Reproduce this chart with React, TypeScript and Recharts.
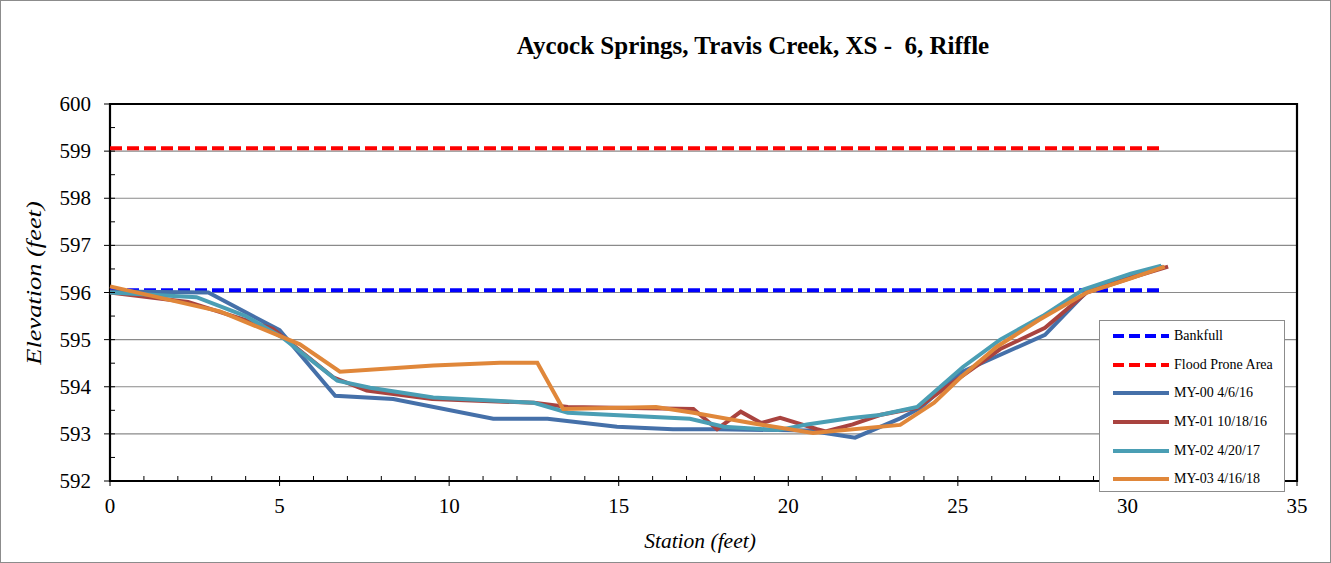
import { LineChart, Line, XAxis, YAxis, CartesianGrid, ReferenceArea } from "recharts";

const xTicks = Array.from({ length: 36 }, (_, i) => i);
const yTicks = [592, 592.5, 593, 593.5, 594, 594.5, 595, 595.5, 596, 596.5, 597, 597.5, 598, 598.5, 599, 599.5, 600];

const bankfullStation = [0, 31];
const bankfullElev = [596.05, 596.05];
const floodStation = [0, 31];
const floodElev = [599.06, 599.06];

const my00Station = [0, 2.9, 5.0, 6.64, 8.35, 11.3, 12.9, 14.95, 16.6, 17.9, 20.6, 21.97, 23.3, 23.9, 25.07, 27.57, 28.8, 30.17, 31.05];
const my00Elev = [596.02, 596.0, 595.2, 593.81, 593.74, 593.32, 593.32, 593.15, 593.1, 593.1, 593.07, 592.92, 593.33, 593.55, 594.3, 595.1, 596.02, 596.34, 596.55];

const my01Station = [0, 2.3, 4.8, 6.58, 7.57, 9.5, 12.5, 13.5, 17.2, 17.9, 18.6, 19.2, 19.76, 20.85, 21.1, 21.9, 22.7, 23.8, 25.07, 26.25, 27.57, 28.8, 30.2, 31.2];
const my01Elev = [596.0, 595.8, 595.23, 594.2, 593.92, 593.74, 593.66, 593.57, 593.53, 593.1, 593.47, 593.23, 593.34, 593.1, 593.05, 593.2, 593.4, 593.55, 594.2, 594.8, 595.25, 596.0, 596.33, 596.55];

const my02Station = [0, 2.55, 4.0, 5.07, 6.7, 7.67, 9.53, 12.5, 13.5, 17.1, 18.1, 19.7, 20.55, 21.8, 22.7, 23.8, 25.15, 26.25, 27.5, 28.7, 30.1, 31.0];
const my02Elev = [596.0, 595.9, 595.5, 595.05, 594.13, 593.98, 593.77, 593.66, 593.45, 593.32, 593.15, 593.08, 593.2, 593.33, 593.4, 593.57, 594.42, 595.0, 595.5, 596.06, 596.4, 596.57];

const my03Station = [0, 3.24, 5.6, 6.78, 9.53, 11.5, 12.6, 13.36, 16.1, 17.2, 18.9, 20.73, 23.3, 24.3, 25.07, 26.15, 27.4, 28.8, 30.1, 31.1];
const my03Elev = [596.13, 595.6, 594.9, 594.32, 594.45, 594.51, 594.51, 593.53, 593.57, 593.45, 593.23, 593.02, 593.19, 593.66, 594.19, 594.85, 595.42, 596.0, 596.3, 596.55];

const toPoints = (xs: number[], ys: number[]) => xs.map((x, i) => ({ x, y: ys[i] }));

const series = [
  { name: "Bankfull", color: "#0000ff", dash: "12 5", data: toPoints(bankfullStation, bankfullElev) },
  { name: "Flood Prone Area", color: "#ff0000", dash: "12 5", data: toPoints(floodStation, floodElev) },
  { name: "MY-00 4/6/16", color: "#4570a9", dash: undefined, data: toPoints(my00Station, my00Elev) },
  { name: "MY-01 10/18/16", color: "#a9433f", dash: undefined, data: toPoints(my01Station, my01Elev) },
  { name: "MY-02 4/20/17", color: "#4a9eb4", dash: undefined, data: toPoints(my02Station, my02Elev) },
  { name: "MY-03 4/16/18", color: "#e0873a", dash: undefined, data: toPoints(my03Station, my03Elev) },
];

const FONT = "'Liberation Serif', 'Times New Roman', serif";

const XTick = ({ x, y, payload }: any) => {
  const v = payload.value;
  const major = v % 5 === 0;
  return (
    <g>
      <line x1={x} x2={x} y1={major ? y + 5 : y} y2={y - 5} stroke="#000" strokeWidth={1} />
      {major && (
        <text x={x} y={y + 32} textAnchor="middle" style={{ fontFamily: FONT, fontSize: 21 }} fill="#000">
          {v}
        </text>
      )}
    </g>
  );
};

const YTick = ({ x, y, payload }: any) => {
  const v = payload.value;
  const major = Number.isInteger(v);
  return (
    <g>
      <line x1={major ? x - 6 : x} x2={x + 5} y1={y} y2={y} stroke="#000" strokeWidth={1} />
      {major && (
        <text x={x - 19} y={y + 7} textAnchor="end" style={{ fontFamily: FONT, fontSize: 21 }} fill="#000">
          {v}
        </text>
      )}
    </g>
  );
};

const LegendBox = () => (
  <div
    style={{
      position: "absolute",
      left: 1098,
      top: 319,
      width: 186,
      height: 172,
      border: "1px solid #8c8c8c",
      background: "#fff",
      boxSizing: "border-box",
      fontFamily: FONT,
      fontSize: 14,
      paddingTop: 1,
    }}
  >
    {series.map((s) => (
      <div key={s.name} style={{ height: 28.6, display: "flex", alignItems: "center" }}>
        <svg width={62} height={10} style={{ marginLeft: 11 }}>
          <line x1={2} x2={58} y1={5} y2={5} stroke={s.color} strokeWidth={4} strokeDasharray={s.dash ? "11 5" : undefined} />
        </svg>
        <span style={{ marginLeft: 1 }}>{s.name}</span>
      </div>
    ))}
  </div>
);

export default function App() {
  return (
    <div style={{ position: "relative", width: 1331, height: 563, boxSizing: "border-box", border: "1px solid #8c8c8c", background: "#fff" }}>
      <style>{"body{margin:0}"}</style>
      <div
        style={{
          position: "absolute",
          left: 0,
          width: 1504,
          top: 31,
          textAlign: "center",
          fontFamily: FONT,
          fontWeight: "bold",
          fontSize: 25,
          whiteSpace: "pre",
        }}
      >
        {"Aycock Springs, Travis Creek, XS -  6, Riffle"}
      </div>
      <div
        style={{
          position: "absolute",
          left: 33,
          top: 282,
          transform: "translate(-50%, -50%) rotate(-90deg) scaleX(1.2)",
          fontFamily: FONT,
          fontStyle: "italic",
          fontSize: 22,
          whiteSpace: "nowrap",
        }}
      >
        Elevation (feet)
      </div>
      <div
        style={{
          position: "absolute",
          left: 699,
          top: 540,
          transform: "translate(-50%, -50%)",
          fontFamily: FONT,
          fontStyle: "italic",
          fontSize: 21.5,
          whiteSpace: "nowrap",
        }}
      >
        Station (feet)
      </div>
      <div style={{ position: "absolute", left: -1, top: -1 }}>
        <LineChart width={1331} height={563} margin={{ top: 104, right: 34, bottom: 52, left: 50 }}>
          <CartesianGrid horizontal vertical={false} stroke="#8a8a8a" strokeWidth={1.2} horizontalValues={[593, 594, 595, 596, 597, 598, 599]} />
          <XAxis
            type="number"
            dataKey="x"
            domain={[0, 35]}
            ticks={xTicks}
            interval={0}
            tick={<XTick />}
            tickSize={0}
            tickMargin={0}
            axisLine={false}
            tickLine={false}
            height={30}
            allowDuplicatedCategory={false}
          />
          <YAxis
            type="number"
            dataKey="y"
            domain={[592, 600]}
            ticks={yTicks}
            interval={0}
            tick={<YTick />}
            tickSize={0}
            tickMargin={0}
            axisLine={false}
            tickLine={false}
            width={60}
          />
          <ReferenceArea x1={0} x2={35} y1={592} y2={600} fill="none" stroke="#000" strokeWidth={2.2} />
          {series.map((s) => (
            <Line
              key={s.name}
              data={s.data}
              dataKey="y"
              name={s.name}
              type="linear"
              stroke={s.color}
              strokeWidth={4}
              strokeDasharray={s.dash}
              dot={false}
              activeDot={false}
              isAnimationActive={false}
            />
          ))}
        </LineChart>
      </div>
      <LegendBox />
    </div>
  );
}
